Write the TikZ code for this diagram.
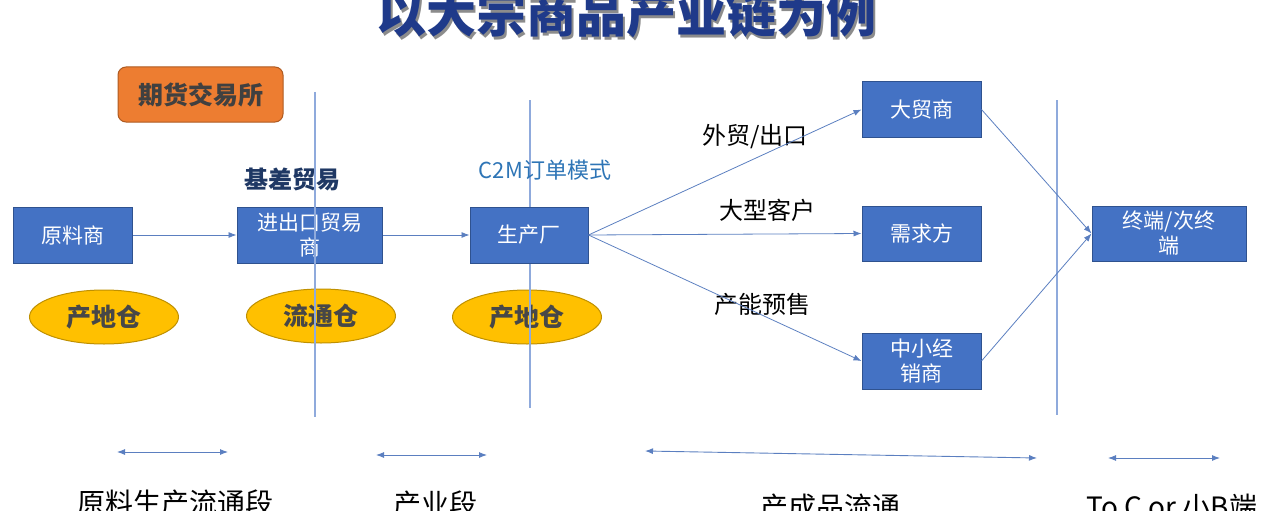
\documentclass[tikz,border=0pt]{standalone}
\usepackage{fontspec}
\setmainfont{Noto Sans CJK SC}
\usetikzlibrary{arrows.meta,shapes.geometric}
\definecolor{boxblue}{HTML}{4472C4}
\definecolor{boxedge}{HTML}{2F528F}
\definecolor{lineblue}{HTML}{8FAADC}
\definecolor{arrowblue}{HTML}{5B7FC0}
\definecolor{goldfill}{HTML}{FFC000}
\definecolor{goldedge}{HTML}{BF9000}
\definecolor{orangefill}{HTML}{ED7D31}
\definecolor{orangeedge}{HTML}{AE5A21}
\definecolor{titleblue}{HTML}{1F3A8A}
\definecolor{navy}{HTML}{1F3864}
\definecolor{cmblue}{HTML}{2E75B6}
\tikzset{
  firm/.style={draw=boxedge, line width=1pt, fill=boxblue, text=white,
    minimum width=119pt, minimum height=56pt, inner sep=0pt, align=center,
    font=\fontsize{21}{25}\selectfont},
  depot/.style={ellipse, draw=goldedge, line width=1pt, fill=goldfill,
    text=black!72, minimum width=149pt, minimum height=54pt, inner sep=0pt,
    font=\fontsize{25}{28}\selectfont\bfseries},
  tag/.style={inner sep=0pt, font=\fontsize{24}{28}\selectfont},
  stage/.style={anchor=north, inner sep=0pt, font=\fontsize{28}{32}\selectfont},
  flow/.style={draw=arrowblue, line width=0.8pt, -{Latex[length=8pt,width=6pt]}},
  span/.style={draw=arrowblue, line width=0.9pt, {Latex[length=8pt,width=6pt]}-{Latex[length=8pt,width=6pt]}},
  divider/.style={draw=lineblue, line width=1.2pt}
}
\begin{document}
\begin{tikzpicture}[x=1pt, y=-1pt]
  \path[use as bounding box, clip] (0,0) rectangle (1267,511);
  % title
  \node[font=\fontsize{50}{56}\selectfont\bfseries, text=black!45] at (628.5,16.5) {以大宗商品产业链为例};
  \node (title) [font=\fontsize{50}{56}\selectfont\bfseries, text=titleblue] at (626,14) {以大宗商品产业链为例};
  \node (exchange) [draw=orangeedge, line width=1pt, fill=orangefill, rounded corners=8pt,
    minimum width=165pt, minimum height=55pt, text=black!75,
    font=\fontsize{25}{28}\selectfont\bfseries] at (200.5,94.5) {期货交易所};
  % warehouses
  \node (depotA) [depot] at (104,317) {产地仓};
  \node (depotB) [depot] at (321,316) {流通仓};
  \node (depotC) [depot] at (527,317) {产地仓};
  \node (basis) [tag, text=navy, font=\fontsize{24}{28}\selectfont\bfseries] at (292,179) {基差贸易};
  \node (trader) [firm, minimum width=145pt] at (309.5,235) {进出口贸易\\商};
  % dividers
  \foreach \x/\ya/\yb in {315/92/417, 530/100/408, 1057/100/415} {
    \draw[divider] (\x,\ya) -- (\x,\yb);
  }
  \node (raw) [firm] at (73,235) {原料商};
  \node (factory) [firm, minimum width=118pt] at (529,235) {生产厂};
  \node (bigtrader) [firm, minimum height=55pt] at (921.5,109.5) {大贸商};
  \node (demand) [firm, minimum height=55pt] at (921.5,233.5) {需求方};
  \node (dealer) [firm] at (921.5,361) {中小经\\销商};
  \node (terminal) [firm, minimum width=154pt, minimum height=55pt] at (1169,233.5) {终端/次终\\端};
  \node (c2m) [tag, text=cmblue, font=\fontsize{22}{26}\selectfont] at (545,170) {C2M订单模式};
  \node (export) [tag] at (755,137) {外贸/出口};
  \node (bigclient) [tag] at (767,210) {大型客户};
  \node (presale) [tag] at (762,304) {产能预售};
  % flows
  \draw[flow] (raw) -- (trader);
  \draw[flow] (trader) -- (factory);
  \draw[flow] (factory.east) -- (bigtrader.west);
  \draw[flow] (factory.east) -- (demand.west);
  \draw[flow] (factory.east) -- (dealer.west);
  \draw[flow] (bigtrader.east) -- (terminal.west);
  \draw[flow] (dealer.east) -- (terminal.west);
  % stages
  \foreach \xa/\ya/\xb/\yb in {117/452/228/452, 376/455/487/455, 645/451/1037/458, 1108/458/1220/458} {
    \draw[span] (\xa,\ya) -- (\xb,\yb);
  }
  \node (stageA) [stage] at (175,490) {原料生产流通段};
  \node (stageB) [stage] at (435,491) {产业段};
  \node (stageC) [stage] at (830,494) {产成品流通};
  \node (stageD) [stage] at (1172,494) {To C or 小B端};
\end{tikzpicture}
\end{document}
